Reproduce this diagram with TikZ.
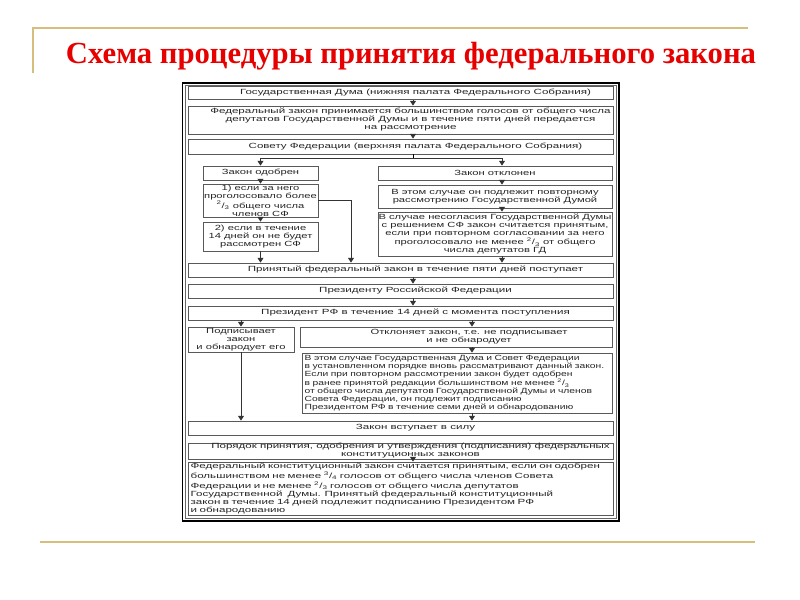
\documentclass[tikz,border=0pt]{standalone}
\usepackage{fontspec}
\setmainfont{Liberation Serif}
\newfontfamily\boxfont[FakeStretch=1.55]{Liberation Sans}
\newfontfamily\colfont[FakeStretch=1.5]{Liberation Sans}
\newfontfamily\densefont[FakeStretch=1.38]{Liberation Sans}
\newfontfamily\titlefont{Liberation Serif}
\usetikzlibrary{arrows.meta}
\definecolor{gold}{RGB}{214,190,125}
\definecolor{titlered}{RGB}{230,0,0}
\newcommand{\frc}[2]{\textsuperscript{#1}/\textsubscript{#2}}
\newcommand{\shiftbox}[2]{\hspace*{#1}\begin{tabular}{@{}c@{}}#2\end{tabular}}

\begin{document}
\begin{tikzpicture}[x=0.75pt,y=-0.75pt,
  box/.style={draw=black!65,line width=0.6pt,fill=white,inner sep=0pt,text=black!85,
    font=\boxfont\fontsize{5.6pt}{6pt}\selectfont},
  wide/.style={box,minimum width=318.75pt},
  col/.style={box,align=center,font=\colfont\fontsize{5.6pt}{6pt}\selectfont},
  arr/.style={-{Triangle[width=4.5pt,length=3.6pt]},line width=0.6pt,black!80}]
  \path[use as bounding box] (0,0) rectangle (800,600);

  % slide decoration
  \draw[gold,line width=1.5pt] (33,73) -- (33,28) -- (748,28);
  \draw[gold,line width=2.2pt] (40,542) -- (755,542);
  \node[anchor=base,inner sep=0pt,text=titlered,
        font=\titlefont\bfseries\fontsize{23pt}{24pt}\selectfont] (title) at (411,63)
        {Схема процедуры принятия федерального закона};

  % frame
  \draw[line width=1.4pt] (182.5,83) rectangle (619,521);
  \draw[black!60,line width=0.4pt] (185.5,85.5) rectangle (616,518.5);

  \coordinate (mx) at (413,0);
  \coordinate (rx) at (502,0);
  \coordinate (sx) at (351,0);
  \coordinate (qx) at (472,0);
  \coordinate (fork) at (413,158);

  \node[wide,minimum height=9.75pt] (B1) at (400.5,93)
    {\shiftbox{22.5pt}{Государственная Дума (нижняя палата Федерального Собрания)}};
  \node[wide,minimum height=21pt] (B2) at (400.5,120)
    {\shiftbox{15pt}{Федеральный закон принимается большинством голосов от общего числа\\
     депутатов Государственной Думы и в течение пяти дней передается\\
     на рассмотрение}};
  \node[wide,minimum height=11.25pt] (B3) at (400.5,146.5)
    {\shiftbox{22.5pt}{Совету Федерации (верхняя палата Федерального Собрания)}};

  \node[col,minimum width=86.25pt,minimum height=10.5pt] (L1) at (260.5,173) {Закон одобрен};
  \node[col,minimum width=86.25pt,minimum height=24.75pt] (L2) at (260.5,200.5)
    {1) если за него\\ проголосовало более\\ \frc{2}{3} общего числа\\ членов СФ};
  \node[col,minimum width=86.25pt,minimum height=21.75pt] (L3) at (260.5,236.5)
    {2) если в течение\\ 14 дней он не будет\\ рассмотрен СФ};

  \node[col,minimum width=175.5pt,minimum height=10.5pt] (R1) at (495,173) {Закон отклонен};
  \node[col,minimum width=175.5pt,minimum height=17.25pt] (R2) at (495,196.5)
    {В этом случае он подлежит повторному\\ рассмотрению Государственной Думой};
  \node[col,minimum width=175.5pt,minimum height=33pt] (R3) at (495,234)
    {В случае несогласия Государственной Думы\\ с решением СФ закон считается принятым,\\
     если при повторном согласовании за него\\ проголосовало не менее \frc{2}{3} от общего\\
     числа депутатов ГД};

  \node[wide,minimum height=10.5pt] (B4) at (400.5,270)
    {\shiftbox{22.5pt}{Принятый федеральный закон в течение пяти дней поступает}};
  \node[wide,minimum height=10.5pt] (B5) at (400.5,291)
    {\shiftbox{22.5pt}{Президенту Российской Федерации}};
  \node[wide,minimum height=10.5pt] (B6) at (400.5,313)
    {\shiftbox{22.5pt}{Президент РФ в течение 14 дней с момента поступления}};

  \node[col,minimum width=79.5pt,minimum height=18.75pt] (S1) at (241,339.5)
    {Подписывает\\ закон\\ и обнародует его};
  \node[col,minimum width=234pt,minimum height=15pt] (S2) at (456,337)
    {\shiftbox{19.5pt}{Отклоняет закон, т.е. не подписывает\\ и не обнародует}};
  \node[box,align=left,inner xsep=2pt,text width=228.5pt,minimum height=45pt,
        font=\densefont\fontsize{5.6pt}{5.8pt}\selectfont] (S3) at (457,383)
    {В этом случае Государственная Дума и Совет Федерации\\
     в установленном порядке вновь рассматривают данный закон.\\
     Если при повторном рассмотрении закон будет одобрен\\
     в ранее принятой редакции большинством не менее \frc{2}{3}\\
     от общего числа депутатов Государственной Думы и членов\\
     Совета Федерации, он подлежит подписанию\\
     Президентом РФ в течение семи дней и обнародованию};

  \node[wide,minimum height=10.5pt] (B7) at (400.5,428)
    {\shiftbox{22.5pt}{Закон вступает в силу}};
  \node[wide,minimum height=12pt] (B8) at (400.5,451)
    {\shiftbox{15pt}{Порядок принятия, одобрения и утверждения (подписания) федеральных\\
     конституционных законов}};
  \node[box,align=left,inner xsep=2pt,text width=314.75pt,minimum height=39.75pt] (B9) at (400.5,488.5)
    {Федеральный конституционный закон считается принятым, если он одобрен\\
     большинством не менее \frc{3}{4} голосов от общего числа членов Совета\\
     Федерации и не менее \frc{2}{3} голосов от общего числа депутатов\\
     Государственной\ \ Думы. Принятый федеральный конституционный\\
     закон в течение 14 дней подлежит подписанию Президентом РФ\\
     и обнародованию};

  % connectors
  \draw[arr] (B1.south -| mx) -- (B2.north -| mx);
  \draw[arr] (B2.south -| mx) -- (B3.north -| mx);
  \draw (B3.south -| mx) -- (fork);
  \draw[arr] (fork) -| (L1.north);
  \draw[arr] (fork) -| (R1.north -| rx);
  \draw[arr] (L1) -- (L2);
  \draw[arr] (L2) -- (L3);
  \draw[arr] (L3) -- (L3 |- B4.north);
  \draw[arr] (L2.east) -| (B4.north -| sx);
  \draw[arr] (R1.south -| rx) -- (R2.north -| rx);
  \draw[arr] (R2.south -| rx) -- (R3.north -| rx);
  \draw[arr] (R3.south -| rx) -- (B4.north -| rx);
  \draw[arr] (B4.south -| mx) -- (B5.north -| mx);
  \draw[arr] (B5.south -| mx) -- (B6.north -| mx);
  \draw[arr] (B6.south -| S1) -- (S1.north);
  \draw[arr] (B6.south -| qx) -- (S2.north -| qx);
  \draw[arr] (S2.south -| qx) -- (S3.north -| qx);
  \draw[arr] (S1) -- (S1 |- B7.north);
  \draw[arr] (S3.south -| qx) -- (B7.north -| qx);
  \draw[arr] (B8.south -| mx) -- (B9.north -| mx);
\end{tikzpicture}
\end{document}
